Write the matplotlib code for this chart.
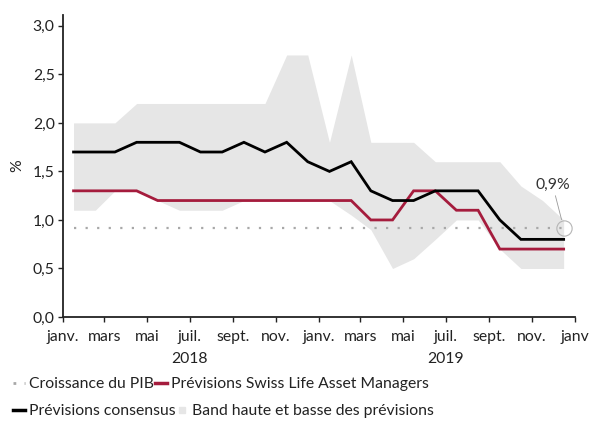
import numpy as np
import pandas as pd
import matplotlib
matplotlib.use("Agg")
import matplotlib.pyplot as plt
from matplotlib.lines import Line2D

plt.rcParams["font.family"] = ["Lato", "DejaVu Sans"]

# Données (mensuelles, janv. 2018 - déc. 2019)
mois = pd.date_range("2018-01-01", "2019-12-01", freq="MS") + pd.Timedelta(days=15)
consensus = [1.7, 1.7, 1.7, 1.8, 1.8, 1.8, 1.7, 1.7, 1.8, 1.7, 1.8, 1.6,
             1.5, 1.6, 1.3, 1.2, 1.2, 1.3, 1.3, 1.3, 1.0, 0.8, 0.8, 0.8]
swiss_life = [1.3, 1.3, 1.3, 1.3, 1.2, 1.2, 1.2, 1.2, 1.2, 1.2, 1.2, 1.2,
              1.2, 1.2, 1.0, 1.0, 1.3, 1.3, 1.1, 1.1, 0.7, 0.7, 0.7, 0.7]
band_haute = [2.0, 2.0, 2.0, 2.2, 2.2, 2.2, 2.2, 2.2, 2.2, 2.2, 2.7, 2.7,
              1.8, 2.7, 1.8, 1.8, 1.8, 1.6, 1.6, 1.6, 1.6, 1.35, 1.2, 1.0]
band_basse = [1.1, 1.1, 1.3, 1.3, 1.2, 1.1, 1.1, 1.1, 1.2, 1.2, 1.2, 1.2,
              1.2, 1.05, 0.9, 0.5, 0.6, 0.8, 1.0, 1.0, 0.7, 0.5, 0.5, 0.5]
pib = 0.92
pib_label = "0,9%"

ticks = pd.date_range("2018-01-01", "2020-01-01", freq="2MS")
tick_labels = ["janv.", "mars", "mai", "juil.", "sept.", "nov.",
               "janv.", "mars", "mai", "juil.", "sept.", "nov.", "janv"]
annees = ["2018", "2019"]
annees_pos = pd.to_datetime(["2018-07-01", "2019-07-01"])

ROUGE = "#a51c3d"
GRIS_BAND = "#e6e6e6"
GRIS_PIB = "#a8a8a8"
TEXTE = "#222222"

fig = plt.figure(figsize=(5.89, 4.21), dpi=100)
ax = fig.add_axes([0.107, 0.247, 0.869, 0.717])

ax.fill_between(mois, band_basse, band_haute, color=GRIS_BAND, lw=0, zorder=1)
ax.plot(mois, [pib] * len(mois), color=GRIS_PIB, lw=1.6,
        linestyle=(0, (1, 4.2)), dash_capstyle="butt", zorder=2)
ax.plot(mois, swiss_life, color=ROUGE, lw=2.0, zorder=3, solid_joinstyle="miter")
ax.plot(mois, consensus, color="black", lw=2.0, zorder=4, solid_joinstyle="miter")

# marqueur + annotation pour la croissance du PIB
ax.plot(mois[-1], pib, marker="o", ms=11, mfc="none", mec="#b5b5b5", mew=0.8, zorder=5)
ax.annotate(pib_label, xy=(mois[-1], pib), xytext=(-8, 26), textcoords="offset points",
            ha="center", va="bottom", fontsize=11.3, color="#333333",
            arrowprops=dict(arrowstyle="-", color="#999999", lw=0.6,
                            shrinkA=1, shrinkB=6))

ax.set_xlim(pd.Timestamp("2018-01-01"), pd.Timestamp("2020-01-01"))
ax.set_ylim(0, 3.11)
ax.set_yticks([0, 0.5, 1.0, 1.5, 2.0, 2.5, 3.0])
ax.set_yticklabels([f"{v:.1f}".replace(".", ",") for v in ax.get_yticks()])
ax.set_xticks(ticks)
ax.set_xticklabels(tick_labels)
ax.tick_params(axis="both", labelsize=11.3, length=3.5, width=1, color=TEXTE,
               labelcolor=TEXTE, pad=2.5)
ax.tick_params(axis="x", pad=6)
ax.set_ylabel("%", fontsize=11.3, color=TEXTE, labelpad=6)

for pos, a in zip(annees_pos, annees):
    ax.annotate(a, xy=(pos, 0), xycoords=("data", "axes fraction"),
                xytext=(0, -25.5), textcoords="offset points",
                ha="center", va="top", fontsize=11.3, color=TEXTE)

for s in ["top", "right"]:
    ax.spines[s].set_visible(False)
for s in ["left", "bottom"]:
    ax.spines[s].set_linewidth(1.3)
    ax.spines[s].set_color(TEXTE)

# légende sur deux lignes
h_pib = Line2D([], [], color=GRIS_PIB, lw=2, linestyle=(0, (1, 3)))
h_sl = Line2D([], [], color=ROUGE, lw=2.5)
h_cons = Line2D([], [], color="black", lw=2.5)
h_band = Line2D([], [], color=GRIS_BAND, marker="s", ms=5, ls="none")

leg_kw = dict(frameon=False, ncol=2, fontsize=11.3, handlelength=0.75,
              handletextpad=0.25, columnspacing=0.05, borderaxespad=0, labelcolor=TEXTE)
fig.legend([h_pib, h_sl], ["Croissance du PIB", "Prévisions Swiss Life Asset Managers"],
           loc="center left", bbox_to_anchor=(0.012, 1 - 384 / 421), **leg_kw)
fig.legend([h_cons, h_band], ["Prévisions consensus", "Band haute et basse des prévisions"],
           loc="center left", bbox_to_anchor=(0.012, 1 - 411 / 421), **leg_kw)

fig.savefig("out.png", dpi=100)
